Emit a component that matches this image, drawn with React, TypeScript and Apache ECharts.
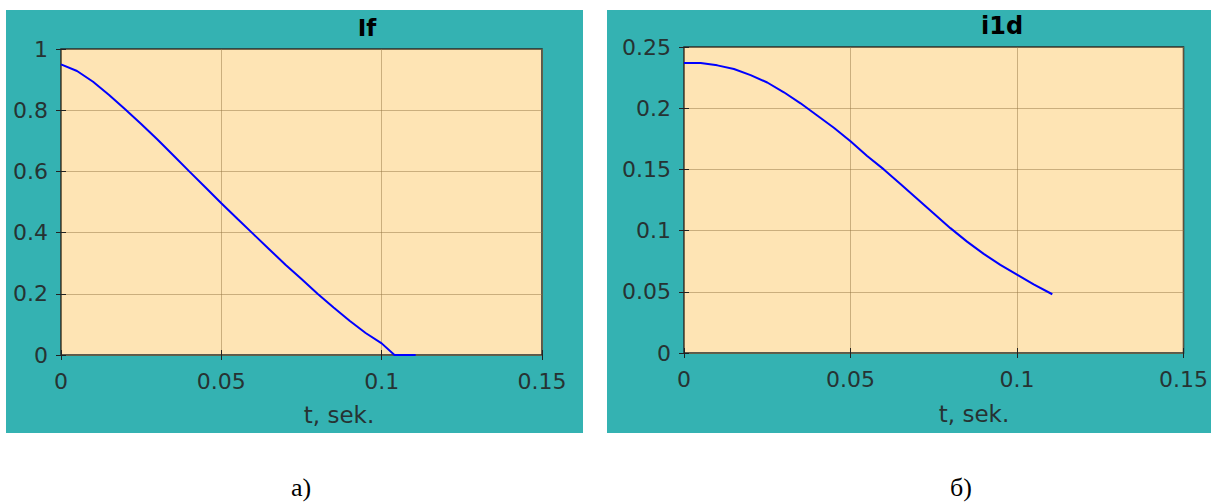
import React, { useEffect, useRef } from "react";
import * as echarts from "echarts";

// time (s) and values for panel a) If
const tIf = [0, 0.005, 0.01, 0.015, 0.02, 0.025, 0.03, 0.035, 0.04, 0.045, 0.05, 0.055, 0.06, 0.065, 0.07, 0.075, 0.08, 0.085, 0.09, 0.095, 0.1, 0.104, 0.107, 0.1106];
const ifValues = [0.95, 0.928, 0.893, 0.85, 0.803, 0.755, 0.705, 0.653, 0.6, 0.548, 0.496, 0.445, 0.395, 0.345, 0.295, 0.248, 0.2, 0.155, 0.112, 0.072, 0.038, 0.0, 0.0, 0.0];

// time (s) and values for panel б) i1d
const tI1d = [0, 0.005, 0.01, 0.015, 0.02, 0.025, 0.03, 0.035, 0.04, 0.045, 0.05, 0.055, 0.06, 0.065, 0.07, 0.075, 0.08, 0.085, 0.09, 0.095, 0.1, 0.105, 0.1106];
const i1dValues = [0.237, 0.237, 0.235, 0.232, 0.227, 0.221, 0.213, 0.204, 0.194, 0.184, 0.173, 0.161, 0.15, 0.138, 0.126, 0.114, 0.102, 0.091, 0.081, 0.072, 0.064, 0.056, 0.048];

const panelTitles = ["If", "i1d"];
const xAxisTitle = "t, sek.";
const panelLabels = ["а)", "б)"];
const yMax = [1, 0.25];
const yStep = [0.2, 0.05];
const xMax = 0.15;
const xStep = 0.05;

const TEAL = "#34b2b2";
const PLOT_BG = "#fee4b4";
const GRID_LINE = "rgba(150,120,70,0.5)";
const LABEL = "#263333";
const FONT = "'DejaVu Sans', Arial, sans-serif";

export default function App() {
  const ref = useRef<HTMLDivElement>(null);
  useEffect(() => {
    if (!ref.current) return;
    const chart = echarts.init(ref.current, undefined, { renderer: "svg" });
    const grids = [
      { left: 61, top: 49, width: 481, height: 306 },
      { left: 684, top: 47, width: 500, height: 306 },
    ];
    const xAxes: any[] = [];
    const yAxes: any[] = [];
    grids.forEach((_, i) => {
      const baseX = {
        type: "value",
        gridIndex: i,
        min: 0,
        max: xMax,
        interval: xStep,
        axisLine: { show: false },
        axisTick: { show: true, inside: true, length: 5, lineStyle: { color: "#222", width: 1 } },
        splitLine: { show: true, lineStyle: { color: GRID_LINE, width: 1 } },
      };
      xAxes.push({
        ...baseX,
        position: "bottom",
        axisLabel: { show: true, color: LABEL, fontSize: 22, fontFamily: FONT, margin: 15 },
      });
      xAxes.push({
        ...baseX,
        position: "top",
        axisLabel: { show: false },
        splitLine: { show: false },
      });
      const baseY = {
        type: "value",
        gridIndex: i,
        min: 0,
        max: yMax[i],
        interval: yStep[i],
        axisLine: { show: false },
        axisTick: { show: true, inside: true, length: 5, lineStyle: { color: "#222", width: 1 } },
        splitLine: { show: true, lineStyle: { color: GRID_LINE, width: 1 } },
      };
      yAxes.push({
        ...baseY,
        position: "left",
        axisLabel: { show: true, color: LABEL, fontSize: 22, fontFamily: FONT, margin: 13 },
      });
      yAxes.push({
        ...baseY,
        position: "right",
        axisLabel: { show: false },
        splitLine: { show: false },
      });
    });

    const lineStyle = { color: "#0000ff", width: 2 };
    const series = [
      {
        type: "line",
        xAxisIndex: 0,
        yAxisIndex: 0,
        data: tIf.map((t, k) => [t, ifValues[k]]),
        showSymbol: false,
        lineStyle,
        z: 5,
      },
      {
        type: "line",
        xAxisIndex: 2,
        yAxisIndex: 2,
        data: tI1d.map((t, k) => [t, i1dValues[k]]),
        showSymbol: false,
        lineStyle,
        z: 5,
      },
    ];

    const serif = "'Liberation Serif', 'Times New Roman', serif";
    const graphic: any[] = [
      { type: "rect", z: -10, shape: { x: 6, y: 10, width: 577, height: 423 }, style: { fill: TEAL } },
      { type: "rect", z: -10, shape: { x: 607, y: 10, width: 604, height: 423 }, style: { fill: TEAL } },
      {
        type: "text", x: 367, y: 28,
        style: { text: panelTitles[0], font: `bold 23px ${FONT}`, fill: "#000", align: "center", verticalAlign: "middle" },
      },
      {
        type: "text", x: 1002, y: 26,
        style: { text: panelTitles[1], font: `bold 24px ${FONT}`, fill: "#000", align: "center", verticalAlign: "middle" },
      },
      {
        type: "text", x: 339, y: 415,
        style: { text: xAxisTitle, font: `23px ${FONT}`, fill: LABEL, align: "center", verticalAlign: "middle" },
      },
      {
        type: "text", x: 974, y: 414,
        style: { text: xAxisTitle, font: `23px ${FONT}`, fill: LABEL, align: "center", verticalAlign: "middle" },
      },
      {
        type: "text", x: 301, y: 487,
        style: { text: panelLabels[0], font: `26px ${serif}`, fill: "#000", align: "center", verticalAlign: "middle" },
      },
      {
        type: "text", x: 961, y: 487,
        style: { text: panelLabels[1], font: `26px ${serif}`, fill: "#000", align: "center", verticalAlign: "middle" },
      },
    ];

    chart.setOption({
      animation: false,
      backgroundColor: "#ffffff",
      grid: grids.map((g) => ({
        ...g,
        show: true,
        backgroundColor: PLOT_BG,
        borderColor: "#2a2a2a",
        borderWidth: 1.5,
        containLabel: false,
      })),
      xAxis: xAxes,
      yAxis: yAxes,
      series,
      graphic,
    });
    return () => chart.dispose();
  }, []);

  return (
    <div
      ref={ref}
      style={{ position: "absolute", left: 0, top: 0, width: 1211, height: 504 }}
    />
  );
}
